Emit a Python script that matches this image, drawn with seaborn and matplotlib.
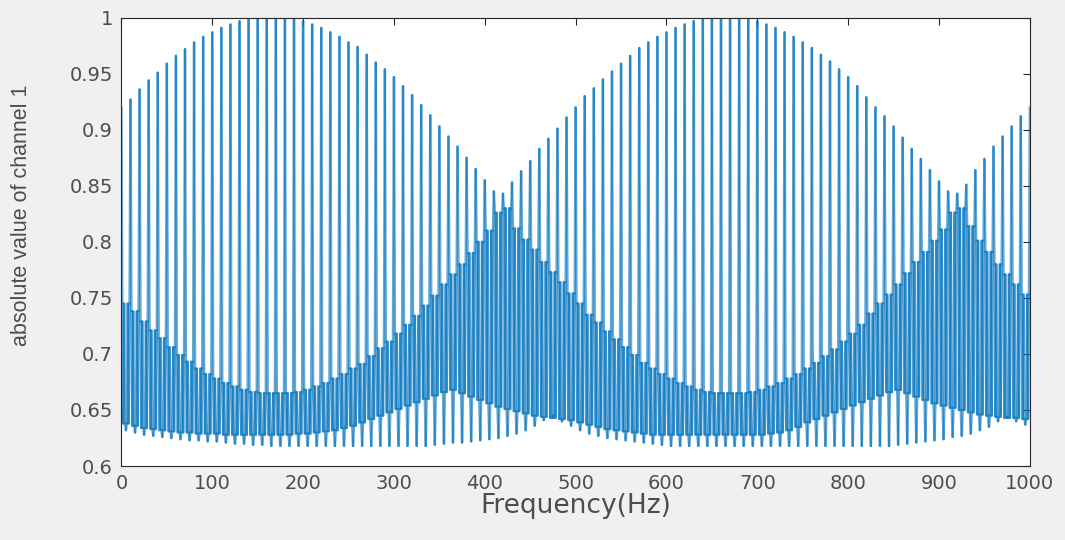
import numpy as np
import pandas as pd
import matplotlib
matplotlib.use("Agg")
import matplotlib.pyplot as plt
import seaborn as sns

# one tall spike every 10 Hz, values per spike
spike_hz = np.arange(0, 1010, 10)

peak = [0.920, 0.927, 0.936, 0.944, 0.951, 0.959, 0.966, 0.972, 0.978, 0.983,
        0.987, 0.991, 0.994, 0.997, 0.999, 1.000, 1.000, 1.000, 1.000, 0.999,
        0.997, 0.994, 0.991, 0.987, 0.983, 0.978, 0.974, 0.967, 0.960, 0.954,
        0.947, 0.939, 0.931, 0.922, 0.913, 0.903, 0.894, 0.885, 0.875, 0.865,
        0.855, 0.845, 0.843, 0.853, 0.863, 0.872, 0.883, 0.892, 0.901, 0.911,
        0.920, 0.930, 0.937, 0.945, 0.952, 0.959, 0.966, 0.973, 0.978, 0.983,
        0.987, 0.991, 0.994, 0.997, 0.999, 1.000, 1.000, 1.000, 1.000, 0.999,
        0.997, 0.994, 0.991, 0.987, 0.983, 0.978, 0.973, 0.967, 0.961, 0.954,
        0.947, 0.939, 0.929, 0.920, 0.912, 0.903, 0.893, 0.883, 0.874, 0.864,
        0.854, 0.845, 0.843, 0.851, 0.864, 0.874, 0.885, 0.894, 0.903, 0.912,
        0.920]

band_top = [0.745, 0.738, 0.729, 0.721, 0.714, 0.706, 0.699, 0.693, 0.687, 0.682,
            0.678, 0.674, 0.671, 0.668, 0.666, 0.665, 0.665, 0.665, 0.665, 0.666,
            0.668, 0.671, 0.674, 0.678, 0.682, 0.687, 0.691, 0.698, 0.705, 0.711,
            0.718, 0.726, 0.734, 0.743, 0.752, 0.762, 0.771, 0.780, 0.790, 0.800,
            0.810, 0.826, 0.830, 0.812, 0.802, 0.793, 0.782, 0.773, 0.764, 0.754,
            0.745, 0.735, 0.728, 0.720, 0.713, 0.706, 0.699, 0.692, 0.687, 0.682,
            0.678, 0.674, 0.671, 0.668, 0.666, 0.665, 0.665, 0.665, 0.665, 0.666,
            0.668, 0.671, 0.674, 0.678, 0.682, 0.687, 0.692, 0.698, 0.704, 0.711,
            0.718, 0.726, 0.736, 0.745, 0.753, 0.762, 0.772, 0.782, 0.791, 0.801,
            0.811, 0.826, 0.830, 0.814, 0.801, 0.791, 0.780, 0.771, 0.762, 0.753,
            0.745]

gap_top = [0.638, 0.636, 0.634, 0.633, 0.632, 0.631, 0.630, 0.630, 0.629, 0.629,
           0.629, 0.628, 0.628, 0.628, 0.628, 0.628, 0.628, 0.628, 0.628, 0.629,
           0.629, 0.630, 0.631, 0.632, 0.634, 0.636, 0.639, 0.642, 0.645, 0.648,
           0.651, 0.654, 0.657, 0.660, 0.663, 0.666, 0.668, 0.665, 0.662, 0.659,
           0.656, 0.653, 0.651, 0.649, 0.647, 0.645, 0.644, 0.643, 0.642, 0.641,
           0.639, 0.637, 0.635, 0.633, 0.632, 0.631, 0.630, 0.629, 0.628, 0.628,
           0.628, 0.628, 0.628, 0.628, 0.628, 0.628, 0.628, 0.628, 0.628, 0.628,
           0.628, 0.629, 0.630, 0.632, 0.635, 0.639, 0.642, 0.645, 0.648, 0.651,
           0.654, 0.657, 0.660, 0.663, 0.666, 0.668, 0.665, 0.662, 0.659, 0.656,
           0.654, 0.652, 0.650, 0.648, 0.646, 0.645, 0.644, 0.643, 0.643, 0.642,
           0.641]

trough = [0.632, 0.630, 0.628, 0.627, 0.626, 0.625, 0.624, 0.623, 0.623, 0.622,
          0.622, 0.621, 0.620, 0.620, 0.619, 0.619, 0.618, 0.618, 0.618, 0.618,
          0.618, 0.618, 0.618, 0.618, 0.618, 0.618, 0.618, 0.618, 0.618, 0.618,
          0.618, 0.618, 0.618, 0.618, 0.619, 0.620, 0.621, 0.621, 0.622, 0.623,
          0.624, 0.625, 0.627, 0.629, 0.632, 0.636, 0.641, 0.645, 0.640, 0.636,
          0.632, 0.629, 0.627, 0.625, 0.624, 0.623, 0.622, 0.621, 0.620, 0.619,
          0.618, 0.618, 0.618, 0.618, 0.618, 0.618, 0.618, 0.618, 0.618, 0.618,
          0.618, 0.618, 0.618, 0.618, 0.618, 0.618, 0.618, 0.618, 0.618, 0.618,
          0.618, 0.618, 0.618, 0.618, 0.618, 0.619, 0.620, 0.621, 0.622, 0.623,
          0.624, 0.626, 0.627, 0.629, 0.632, 0.635, 0.640, 0.644, 0.640, 0.637,
          0.634]

# order of the 1 Hz samples inside one 10 Hz period
period = [peak, band_top, gap_top, band_top, gap_top, trough, gap_top, band_top, gap_top, band_top]

freq, value = [], []
for k, f0 in enumerate(spike_hz):
    for j, arr in enumerate(period):
        if f0 + j > 1000:
            break
        freq.append(f0 + j)
        value.append(arr[k])

# each step between two samples as its own piece, so overlapping strokes darken
seg_f, seg_v, seg_id = [], [], []
for i in range(len(freq) - 1):
    seg_f += [freq[i], freq[i + 1]]
    seg_v += [value[i], value[i + 1]]
    seg_id += [i, i]
df = pd.DataFrame({"Frequency": seg_f, "abs": seg_v, "seg": seg_id})

sns.set_style("white")
fig = plt.figure(figsize=(10.65, 5.4), dpi=100, facecolor="#f0f0f0")
ax = fig.add_axes([0.114, 0.137, 0.853, 0.830])
ax.set_facecolor("white")

sns.lineplot(data=df, x="Frequency", y="abs", units="seg", color="#0072BD",
             linewidth=1.8, alpha=0.6, estimator=None, sort=False, ax=ax)

ax.set_xlim(0, 1000)
ax.set_ylim(0.6, 1.0)
ax.set_xticks(np.arange(0, 1001, 100))
ax.set_yticks([0.6, 0.65, 0.7, 0.75, 0.8, 0.85, 0.9, 0.95, 1.0])
ax.set_yticklabels(["0.6", "0.65", "0.7", "0.75", "0.8", "0.85", "0.9", "0.95", "1"])
ax.tick_params(direction="in", top=True, right=True, length=5, width=0.8,
               colors="#262626", labelcolor="#4d4d4d", labelsize=14, pad=6)
for s in ax.spines.values():
    s.set_color("#262626")
    s.set_linewidth(0.8)

ax.set_xlabel("Frequency(Hz)", fontsize=19, color="#4d4d4d", labelpad=0)
ax.set_ylabel("absolute value of channel 1", fontsize=15.5, color="#4d4d4d",
              family="Liberation Sans")
ax.yaxis.set_label_coords(-0.098, 0.56)

fig.savefig("out.png", dpi=100, facecolor=fig.get_facecolor())
